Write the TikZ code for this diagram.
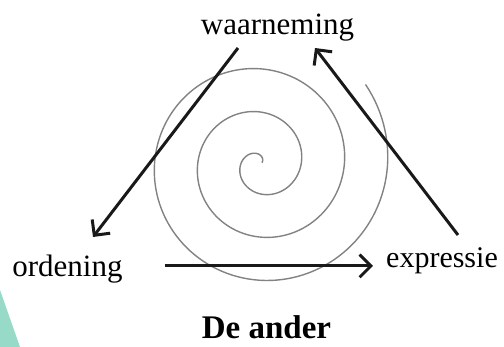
\documentclass[tikz,border=0pt]{standalone}
\usepackage{fontspec}
\setmainfont{Liberation Serif}
\usepackage{tikz}
\usetikzlibrary{positioning, arrows.meta, calc}

\definecolor{mint}{RGB}{152,218,200}
\definecolor{spiralgray}{RGB}{130,130,130}
\definecolor{inkblack}{RGB}{25,25,25}

\begin{document}
\begin{tikzpicture}[x=1pt, y=1pt,
    >={Straight Barb[angle=90:16pt]},
    label/.style={font=\fontsize{31}{31}\selectfont, inner sep=0pt, anchor=base},
    flow/.style={->, line width=3pt, inkblack}]

    \useasboundingbox (0,0) rectangle (504,347);

    % Groene driehoek
    \fill[mint] (0,57) -- (20,0) -- (0,0) -- cycle;

    % Spiraal
    \def\cx{260.25}
    \def\cy{183.25}
    \draw[spiralgray, line width=1.4pt]
        plot[domain=35:1117, samples=400, variable=\t]
        ({\cx+(0.12*\t-2.25)*cos(\t)}, {\cy+(0.12*\t-2.25)*sin(\t)});

    % Teksten
    \node[label] (waarneming) at (277.5,312) {waarneming};
    \node[label] (ordening) at (67.5,70) {ordening};
    \node[label, font=\fontsize{30}{30}\selectfont] (expressie) at (442,79) {expressie};
    \node[label, font=\fontsize{33}{33}\selectfont\bfseries] (ander) at (266.5,8) {De ander};

    % Eindpunten van de pijlen
    \coordinate (w-out) at (238,299);
    \coordinate (o-in) at (93,110);
    \coordinate (o-out) at (165,81);
    \coordinate (e-in) at (373,81);
    \coordinate (e-out) at (458,112);
    \coordinate (w-in) at (315,299);

    % Pijlen
    \draw[flow] (w-out) -- (o-in);
    \draw[flow] (o-out) -- (e-in);
    \draw[flow] (e-out) -- (w-in);

\end{tikzpicture}
\end{document}
